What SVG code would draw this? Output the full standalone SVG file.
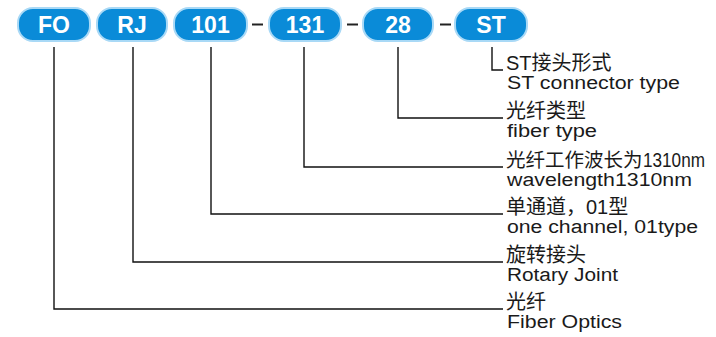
<svg xmlns="http://www.w3.org/2000/svg" width="716" height="337" viewBox="0 0 716 337">
<style>
.pill{fill:#0a8bd8;stroke:#a9d9f6;stroke-width:2}
.pt{font-family:"Liberation Sans",Arial,sans-serif;font-weight:bold;font-size:23px;fill:#fff;text-anchor:middle}
.dash{stroke:#222;stroke-width:2}
.conn{fill:none;stroke:#111;stroke-width:1.4}
.cn{font-family:"Liberation Sans","Noto Sans CJK SC",sans-serif;font-size:20px;fill:#1a1a1a}
.cn19{font-size:19.5px}
.en{font-family:"Liberation Sans",Arial,sans-serif;font-size:18px;fill:#1a1a1a}
</style>
<rect width="716" height="337" fill="#fff"/>
<g id="node-FO"><rect class="pill" x="18" y="8" width="72" height="33" rx="15"/><text class="pt" x="54" y="33">FO</text></g>
<g id="node-RJ"><rect class="pill" x="97" y="8" width="70" height="33" rx="15"/><text class="pt" x="132" y="33">RJ</text></g>
<g id="node-101"><rect class="pill" x="174" y="8" width="73" height="33" rx="15"/><text class="pt" x="210.5" y="33">101</text></g>
<g id="node-131"><rect class="pill" x="269" y="8" width="72" height="33" rx="15"/><text class="pt" x="305" y="33">131</text></g>
<g id="node-28"><rect class="pill" x="363" y="8" width="70" height="33" rx="15"/><text class="pt" x="398" y="33">28</text></g>
<g id="node-ST"><rect class="pill" x="455" y="8" width="72" height="33" rx="15"/><text class="pt" x="491" y="33">ST</text></g>
<g id="dashes">
<line class="dash" x1="252" y1="24.5" x2="263" y2="24.5"/>
<line class="dash" x1="347" y1="24.5" x2="358" y2="24.5"/>
<line class="dash" x1="440" y1="24.5" x2="451" y2="24.5"/>
</g>
<g id="connectors">
<path class="conn" d="M54 47V309H503"/>
<path class="conn" d="M133 47V262H503"/>
<path class="conn" d="M211 47V214H503"/>
<path class="conn" d="M304 47V167H503"/>
<path class="conn" d="M398 47V118H503"/>
<path class="conn" d="M492 47V70H503"/>
</g>
<g id="label-ST"><text class="cn" x="506" y="70">ST接头形式</text><text class="en" x="507" y="89" textLength="173" lengthAdjust="spacingAndGlyphs">ST connector type</text></g>
<g id="label-28"><text class="cn" x="506" y="118">光纤类型</text><text class="en" x="507" y="137" textLength="90" lengthAdjust="spacingAndGlyphs">fiber type</text></g>
<g id="label-131"><text class="cn cn19" x="506" y="167">光纤工作波长为</text><text class="cn" x="643" y="167" textLength="62" lengthAdjust="spacingAndGlyphs">1310nm</text><text class="en" x="507" y="186" textLength="185" lengthAdjust="spacingAndGlyphs">wavelength1310nm</text></g>
<g id="label-101"><text class="cn" x="506" y="214">单通道，01型</text><text class="en" x="507" y="233" textLength="191" lengthAdjust="spacingAndGlyphs">one channel, 01type</text></g>
<g id="label-RJ"><text class="cn" x="506" y="262">旋转接头</text><text class="en" x="507" y="281" textLength="111" lengthAdjust="spacingAndGlyphs">Rotary Joint</text></g>
<g id="label-FO"><text class="cn" x="506" y="309">光纤</text><text class="en" x="507" y="328" textLength="115" lengthAdjust="spacingAndGlyphs">Fiber Optics</text></g>
</svg>
